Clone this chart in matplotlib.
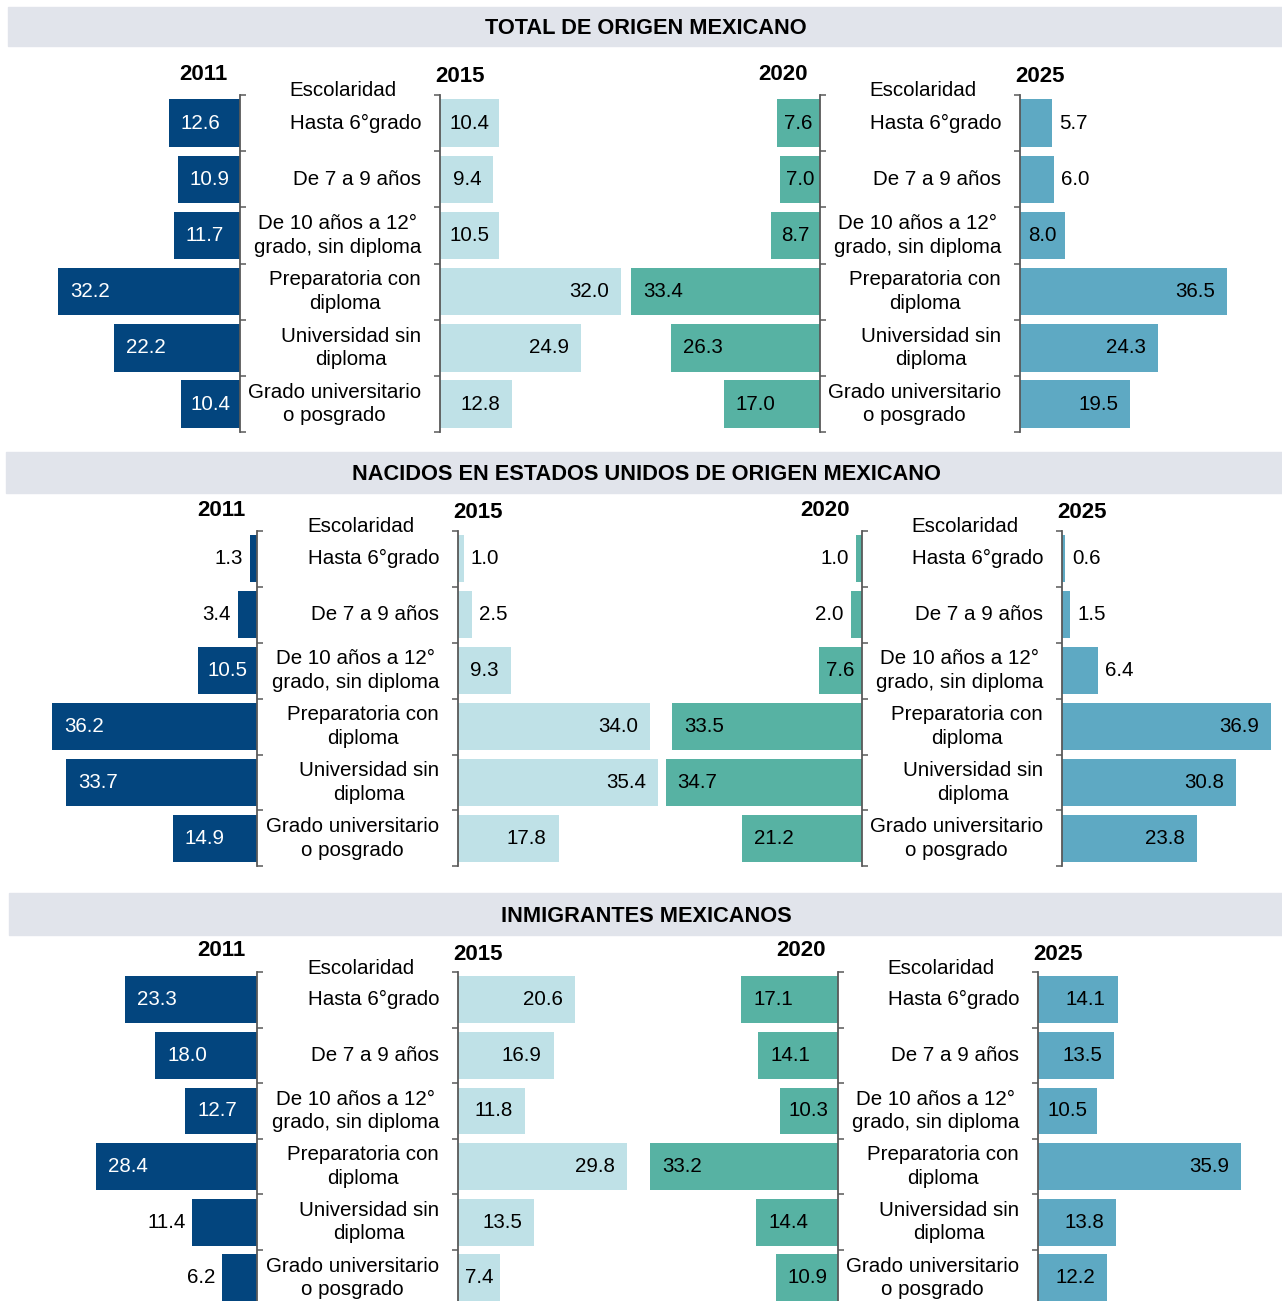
import numpy as np
import matplotlib
matplotlib.use('Agg')
import matplotlib.pyplot as plt
from matplotlib.patches import Rectangle

plt.rcParams['font.family'] = ['Liberation Sans', 'DejaVu Sans']

# Data
categorias = ["Hasta 6°grado", "De 7 a 9 años", "De 10 años a 12°\ngrado, sin diploma",
              "Preparatoria con\ndiploma", "Universidad sin\ndiploma", "Grado universitario\no posgrado"]
anios = ["2011", "2015", "2020", "2025"]
titulos = ["TOTAL DE ORIGEN MEXICANO",
           "NACIDOS EN ESTADOS UNIDOS DE ORIGEN MEXICANO",
           "INMIGRANTES MEXICANOS"]

total_2011 = [12.6, 10.9, 11.7, 32.2, 22.2, 10.4]
total_2015 = [10.4, 9.4, 10.5, 32.0, 24.9, 12.8]
total_2020 = [7.6, 7.0, 8.7, 33.4, 26.3, 17.0]
total_2025 = [5.7, 6.0, 8.0, 36.5, 24.3, 19.5]

nac_2011 = [1.3, 3.4, 10.5, 36.2, 33.7, 14.9]
nac_2015 = [1.0, 2.5, 9.3, 34.0, 35.4, 17.8]
nac_2020 = [1.0, 2.0, 7.6, 33.5, 34.7, 21.2]
nac_2025 = [0.6, 1.5, 6.4, 36.9, 30.8, 23.8]

inm_2011 = [23.3, 18.0, 12.7, 28.4, 11.4, 6.2]
inm_2015 = [20.6, 16.9, 11.8, 29.8, 13.5, 7.4]
inm_2020 = [17.1, 14.1, 10.3, 33.2, 14.4, 10.9]
inm_2025 = [14.1, 13.5, 10.5, 35.9, 13.8, 12.2]

datos = [[total_2011, total_2015, total_2020, total_2025],
         [nac_2011, nac_2015, nac_2020, nac_2025],
         [inm_2011, inm_2015, inm_2020, inm_2025]]

# labels drawn outside the bar (index of row), per section and year
fuera = [[[], [], [], [0, 1]],
         [[0, 1], [0, 1], [0, 1], [0, 1, 2]],
         [[4, 5], [], [], []]]

colores = ['#03457E', '#BFE1E7', '#57B2A3', '#5EA9C3']
col_txt = ['white', 'black', 'black', 'black']
gris = '#595959'

# layout (pixels)
W, H = 1282, 1301
SCALE = 5.66  # px per percentage point
FS = 14.8
FS_YEAR = 16
PT = 0.72     # points per pixel at dpi 100
bandas = [(8, 7, 39, 28), (6, 452, 41, 474), (9, 893, 42, 916)]
tops = [95, 531, 972]
rows = [56.2, 55.9, 55.6]
ejes_x = [[240, 440, 820, 1020], [257, 458, 862, 1062], [257, 458, 838, 1038]]

fig = plt.figure(figsize=(W / 100, H / 100), dpi=100)


def rect(x, y, w, h):
    return [x / W, 1 - (y + h) / H, w / W, h / H]


def ancho_txt(s):
    return sum(0.278 if c == '.' else 0.556 for c in s) * FS / PT


for s in range(3):
    bx, by, bh, ty = bandas[s]
    fig.patches.append(Rectangle((bx / W, 1 - (by + bh) / H), (W - bx) / W, bh / H,
                                 transform=fig.transFigure, color='#E1E4EB', zorder=0))
    fig.text(646 / W, 1 - ty / H, titulos[s], ha='center', va='center',
             fontsize=15.7, fontweight='bold')

    top, row = tops[s], rows[s]
    alto = 6 * row
    for k in range(4):
        xa = ejes_x[s][k]
        vals = datos[s][k]
        izq = (k % 2 == 0)
        if izq:
            ax = fig.add_axes(rect(xa - 240, top, 240, alto))
            ax.set_xlim(240 / SCALE, 0)
        else:
            ax = fig.add_axes(rect(xa, top, 260, alto))
            ax.set_xlim(0, 260 / SCALE)
        ax.set_facecolor('none')
        ax.set_ylim(5.5, -0.5)
        ax.barh(np.arange(6), vals, height=0.84, color=colores[k], zorder=2)
        for sp in ax.spines.values():
            sp.set_visible(False)
        lado = 'right' if izq else 'left'
        ax.spines[lado].set_visible(True)
        ax.spines[lado].set_color(gris)
        ax.spines[lado].set_linewidth(1.3)
        ax.set_xticks([])
        ax.set_yticks(np.arange(-0.5, 6, 1))
        if izq:
            ax.yaxis.tick_right()
        ax.tick_params(axis='y', direction='out', length=4.5, width=1.1, color=gris,
                       labelleft=False, labelright=False)

        # value labels
        for i, v in enumerate(vals):
            txt = f"{v:.1f}"
            tw = ancho_txt(txt)
            bw = v * SCALE
            sgn = -1 if izq else 1  # display direction of bar growth
            if i in fuera[s][k]:
                dx = sgn * 7
                ha = 'left' if sgn > 0 else 'right'
                c = 'black'
            elif bw < tw + 24:
                dx = -sgn * bw / 2
                ha = 'center'
                c = col_txt[k]
            else:
                dx = -sgn * 12
                ha = 'right' if sgn > 0 else 'left'
                c = col_txt[k]
            ax.annotate(txt, xy=(v, i), xytext=(dx * PT, 0), textcoords='offset points',
                        ha=ha, va='center', fontsize=FS, color=c, zorder=3)

        # year label
        if izq:
            fig.text((xa - 12) / W, 1 - (top - 21) / H, anios[k], ha='right', va='center',
                     fontsize=FS_YEAR, fontweight='bold')
        else:
            fig.text((xa - 5) / W, 1 - (top - 18) / H, anios[k], ha='left', va='center',
                     fontsize=FS_YEAR, fontweight='bold')
            # category labels next to the right axis
            for i, cat in enumerate(categorias):
                ax.annotate(cat, xy=(0, i), xytext=(-19 * PT, 0), textcoords='offset points',
                            ha='right', va='center', multialignment='center', fontsize=FS,
                            linespacing=1.3)
            xm = (ejes_x[s][k - 1] + xa) / 2 + 3
            fig.text(xm / W, 1 - (top - 4) / H, "Escolaridad", ha='center', va='center',
                     fontsize=FS)

fig.savefig('out.png', dpi=100)
